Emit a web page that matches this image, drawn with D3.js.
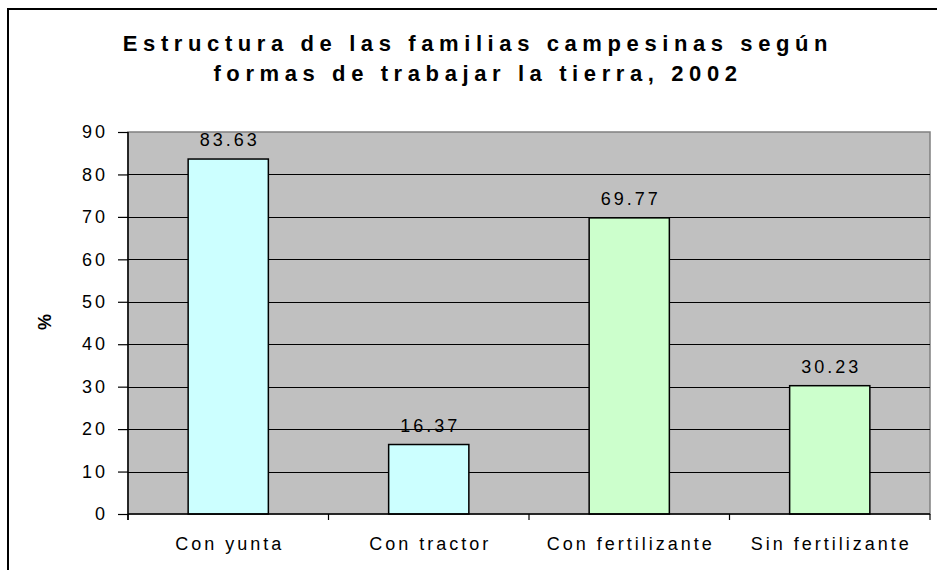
<!DOCTYPE html>
<html>
<head>
    <meta charset="utf-8">
    <script src="https://d3js.org/d3.v7.min.js"></script>
    <style>
        body { margin: 0; background: #fff; }
        text { font-family: "Liberation Sans", Arial, sans-serif; }
    </style>
</head>
<body>
<script>
const categories = ['Con yunta', 'Con tractor', 'Con fertilizante', 'Sin fertilizante'];
const values = [83.63, 16.37, 69.77, 30.23];
const barColors = ['#CCFFFF', '#CCFFFF', '#CCFFCC', '#CCFFCC'];
const yTicks = [0, 10, 20, 30, 40, 50, 60, 70, 80, 90];
const titleLines = ['Estructura de las familias campesinas según', 'formas de trabajar la tierra, 2002'];
const yLabel = '%';

const data = categories.map((c, i) => ({cat: c, value: values[i], color: barColors[i]}));

const width = 937;
const height = 570;
const margin = { top: 132, right: 7, bottom: 56, left: 128 };

const x = d3.scaleBand()
    .domain(categories)
    .range([margin.left, width - margin.right])
    .paddingInner(0.6)
    .paddingOuter(0.3);

const y = d3.scaleLinear()
    .domain([0, 90])
    .range([height - margin.bottom, margin.top]);

const svg = d3.select('body').append('svg')
    .attr('width', width)
    .attr('height', height);

// outer chart border (runs off the right and bottom edges)
svg.append('rect')
    .attr('x', 8).attr('y', 9)
    .attr('width', width + 20).attr('height', height + 20)
    .attr('fill', '#fff')
    .attr('stroke', '#000')
    .attr('stroke-width', 2);

// plot area
svg.append('rect')
    .attr('x', margin.left).attr('y', y(90))
    .attr('width', width - margin.right - margin.left)
    .attr('height', y(0) - y(90))
    .attr('fill', '#C0C0C0')
    .attr('stroke', '#808080')
    .attr('stroke-width', 1.5);

// gridlines
svg.append('g')
    .selectAll('line')
    .data(yTicks.filter(d => d > 0 && d < 90))
    .join('line')
    .attr('x1', margin.left).attr('x2', width - margin.right)
    .attr('y1', d => Math.round(y(d)) + 0.5).attr('y2', d => Math.round(y(d)) + 0.5)
    .attr('stroke', '#000')
    .attr('stroke-width', 1.2);

// bars
svg.append('g')
    .selectAll('rect')
    .data(data)
    .join('rect')
    .attr('x', d => x(d.cat))
    .attr('y', d => y(d.value))
    .attr('width', x.bandwidth())
    .attr('height', d => y(0) - y(d.value))
    .attr('fill', d => d.color)
    .attr('stroke', '#000')
    .attr('stroke-width', 1.5);

// value labels
svg.append('g')
    .selectAll('text')
    .data(data)
    .join('text')
    .attr('x', d => x(d.cat) + x.bandwidth() / 2 + 1.5)
    .attr('y', d => y(d.value) - 13)
    .attr('text-anchor', 'middle')
    .attr('font-size', 18)
    .attr('letter-spacing', 3)
    .attr('fill', '#000')
    .text(d => d.value.toFixed(2));

// y axis
const yAxis = svg.append('g')
    .attr('transform', `translate(${margin.left}, 0)`)
    .call(d3.axisLeft(y).tickValues(yTicks).tickSize(10).tickPadding(13).tickSizeOuter(0));
yAxis.select('.domain')
    .attr('stroke', '#000')
    .attr('stroke-width', 1.5)
    .attr('d', `M0,${y(90)}V${y(0) + 6}`);
yAxis.selectAll('.tick line').attr('stroke', '#000').attr('stroke-width', 1.2);
yAxis.selectAll('.tick text')
    .attr('font-size', 18)
    .attr('letter-spacing', 3)
    .attr('dx', 3)
    .attr('font-family', '"Liberation Sans", Arial, sans-serif')
    .attr('fill', '#000');

// x axis
const xAxis = svg.append('g')
    .attr('transform', `translate(0, ${y(0)})`);
xAxis.append('line')
    .attr('x1', margin.left).attr('x2', width - margin.right)
    .attr('y1', 0).attr('y2', 0)
    .attr('stroke', '#000')
    .attr('stroke-width', 1.5);
const bounds = categories.map(c => x(c) - x.step() * x.paddingInner() / 2);
bounds[0] = margin.left;
bounds.push(width - margin.right);
xAxis.selectAll('line.tk')
    .data(bounds)
    .join('line')
    .attr('class', 'tk')
    .attr('x1', d => d).attr('x2', d => d)
    .attr('y1', 0).attr('y2', 6)
    .attr('stroke', '#000')
    .attr('stroke-width', 1.2);
xAxis.selectAll('text')
    .data(categories)
    .join('text')
    .attr('x', d => x(d) + x.bandwidth() / 2 + 1.5)
    .attr('y', 36)
    .attr('text-anchor', 'middle')
    .attr('font-size', 18)
    .attr('letter-spacing', 3)
    .attr('fill', '#000')
    .text(d => d);

// y axis title
svg.append('text')
    .attr('transform', 'translate(51, 322) rotate(-90)')
    .attr('text-anchor', 'middle')
    .attr('font-size', 18)
    .attr('font-weight', 'bold')
    .text(yLabel);

// chart title
svg.append('g')
    .selectAll('text')
    .data(titleLines)
    .join('text')
    .attr('x', 478)
    .attr('y', (d, i) => 51 + i * 30)
    .attr('text-anchor', 'middle')
    .attr('font-size', 22)
    .attr('font-weight', 'bold')
    .attr('letter-spacing', 5.6)
    .attr('fill', '#000')
    .text(d => d);
</script>
</body>
</html>
